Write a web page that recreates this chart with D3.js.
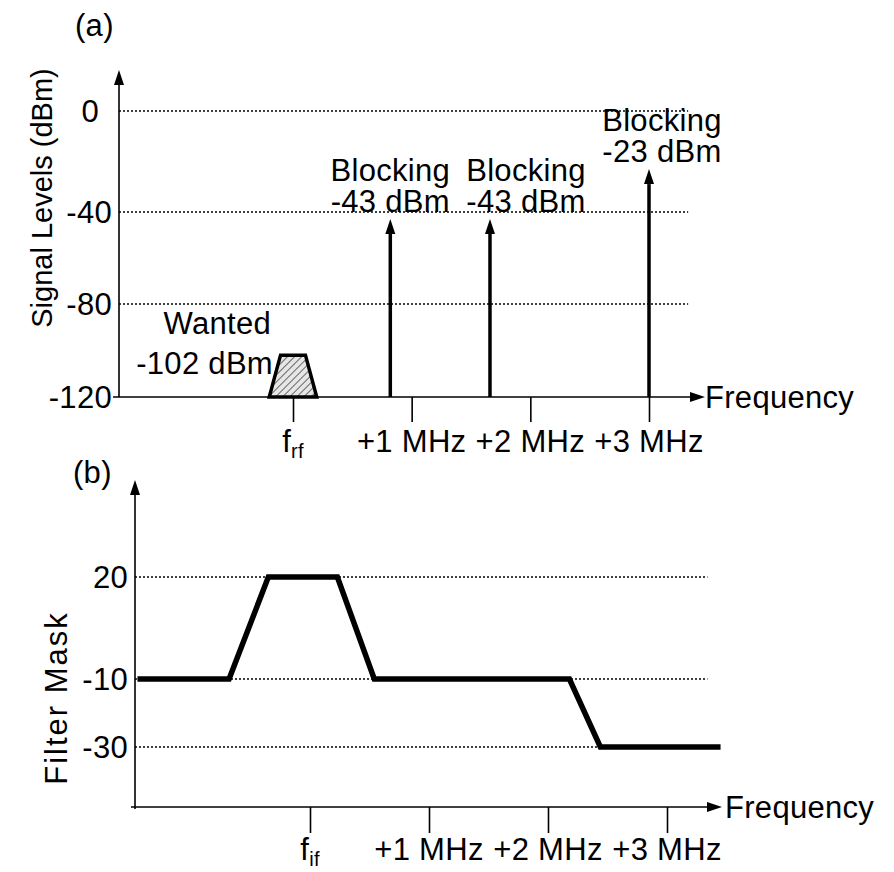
<!DOCTYPE html>
<html>
<head>
<meta charset="utf-8">
<script src="https://cdn.jsdelivr.net/npm/d3@7"></script>
<style>
  body { margin: 0; background: #fff; }
  text { font-family: "Liberation Sans", Arial, sans-serif; font-size: 31px; fill: #000; letter-spacing: 0.3px; }
</style>
</head>
<body>
<script>
// (a) signal levels at the receiver input
let levelTicksA = [0, -40, -80, -120];
let freqTicks = [0, 1, 2, 3];
let freqLabelsA = ['f|rf', '+1 MHz', '+2 MHz', '+3 MHz'];
let blockFreqs = [0.82, 1.66, 3.0];
let blockLevels = [-43, -43, -23];
let blockNames = ['Blocking', 'Blocking', 'Blocking'];
let wantedFreq = 0;
let wantedLevel = -102;
let wantedBottomWidth = 0.40; // MHz
let wantedTopWidth = 0.21;

// (b) filter mask
let maskTicksB = [20, -10, -30];
let freqLabelsB = ['f|if', '+1 MHz', '+2 MHz', '+3 MHz'];
let maskFreqs = [-1.45, -0.68, -0.35, 0.23, 0.54, 2.18, 2.44, 3.45];
let maskLevels = [-10, -10, 20, 20, -10, -10, -30, -30];

let width = 894, height = 872;
let svg = d3.select('body').append('svg').attr('width', width).attr('height', height);

// hatch for the wanted signal
let defs = svg.append('defs');
let pat = defs.append('pattern').attr('id', 'hatch').attr('patternUnits', 'userSpaceOnUse')
  .attr('width', 5).attr('height', 5).attr('patternTransform', 'rotate(45)');
pat.append('rect').attr('width', 5).attr('height', 5).attr('fill', '#e6e6e6');
pat.append('line').attr('x1', 0).attr('y1', 0).attr('x2', 0).attr('y2', 5)
  .attr('stroke', '#666').attr('stroke-width', 2);

function arrow(g, x1, y1, x2, y2, w) {
  let ang = Math.atan2(y2 - y1, x2 - x1);
  let L = 15, H = 5;
  let bx = x2 - L * Math.cos(ang), by = y2 - L * Math.sin(ang);
  g.append('line').attr('x1', x1).attr('y1', y1).attr('x2', bx).attr('y2', by)
    .attr('stroke', '#000').attr('stroke-width', w);
  g.append('path')
    .attr('d', `M${x2},${y2}L${bx + H * Math.sin(ang)},${by - H * Math.cos(ang)}L${bx - H * Math.sin(ang)},${by + H * Math.cos(ang)}Z`)
    .attr('fill', '#000');
}

function freqLabel(sel, label) {
  let parts = label.split('|');
  sel.append('tspan').text(parts[0]);
  if (parts[1]) {
    sel.append('tspan').attr('font-size', 20).attr('dy', 6).text(parts[1]);
  }
}

// ---------- panel (a) ----------
let xA = d3.scaleLinear().domain([0, 3]).range([293, 649]);
let yA = d3.scaleLinear().domain([-120, -80, -40, 0]).range([397, 304, 212, 111]);
let gA = svg.append('g');
let axA = { left: 119, top: 70, right: 705 };

gA.append('text').attr('x', 75).attr('y', 36).text('(a)');

// grid
gA.selectAll('line.grid').data(levelTicksA.filter(d => d > -120)).join('line')
  .attr('class', 'grid')
  .attr('x1', axA.left).attr('x2', xA(3.33))
  .attr('y1', d => yA(d)).attr('y2', d => yA(d))
  .attr('stroke', '#000').attr('stroke-width', 1.3).attr('stroke-dasharray', '2,2');

// ticks under the frequency axis
gA.append('g').attr('transform', `translate(0,${yA(-120)})`)
  .call(d3.axisBottom(xA).tickValues(freqTicks).tickSize(25).tickFormat(''))
  .call(g => g.select('.domain').remove())
  .call(g => g.selectAll('.tick line').attr('stroke-width', 1.6));

arrow(gA, axA.left, yA(-120), axA.left, axA.top, 1.6);
arrow(gA, 113, yA(-120), axA.right, yA(-120), 1.6);

gA.selectAll('text.ylab').data(levelTicksA).join('text')
  .attr('class', 'ylab')
  .attr('x', d => d === 0 ? 99 : 112).attr('y', d => yA(d)).attr('dy', '0.36em')
  .attr('text-anchor', 'end').text(d => d);

gA.selectAll('text.xlab').data(freqTicks).join('text')
  .attr('class', 'xlab')
  .attr('x', d => xA(d)).attr('y', 452).attr('text-anchor', 'middle')
  .each(function(d, i) { freqLabel(d3.select(this), freqLabelsA[i]); });

gA.append('text').attr('x', axA.right).attr('y', yA(-120)).attr('dy', '0.36em').text('Frequency');

gA.append('text').attr('transform', 'translate(52,198) rotate(-90)')
  .attr('text-anchor', 'middle').style('font-size', '29px').style('letter-spacing', '0px')
  .text('Signal Levels (dBm)');

// wanted signal
let wb = yA(-120), wt = yA(wantedLevel);
gA.append('path')
  .attr('d', `M${xA(wantedFreq - wantedBottomWidth / 2)},${wb}L${xA(wantedFreq - wantedTopWidth / 2)},${wt}` +
             `L${xA(wantedFreq + wantedTopWidth / 2)},${wt}L${xA(wantedFreq + wantedBottomWidth / 2)},${wb}Z`)
  .attr('fill', 'url(#hatch)').attr('stroke', '#000').attr('stroke-width', 3.5).attr('stroke-linejoin', 'miter');
gA.append('text').attr('x', xA(wantedFreq) - 22).attr('y', wt - 21).attr('text-anchor', 'end').text('Wanted');
gA.append('text').attr('x', xA(wantedFreq) - 20).attr('y', wt + 19).attr('text-anchor', 'end')
  .text(wantedLevel + ' dBm');

// blockers
let labelShift = [0, 36, 13];
blockFreqs.forEach((f, i) => {
  arrow(gA, xA(f), yA(-120), xA(f), yA(blockLevels[i]), 3.5);
  gA.append('text').attr('x', xA(f) + labelShift[i]).attr('y', yA(blockLevels[i]) - 38)
    .attr('text-anchor', 'middle').text(blockNames[i]);
  gA.append('text').attr('x', xA(f) + labelShift[i]).attr('y', yA(blockLevels[i]) - 7)
    .attr('text-anchor', 'middle').text(blockLevels[i] + ' dBm');
});

// ---------- panel (b) ----------
let xB = d3.scaleLinear().domain([0, 3]).range([310, 667]);
let yB = d3.scaleLinear().domain([-30, 20]).range([747, 577]);
let gB = svg.append('g');
let axB = { left: 135, bottom: 807, top: 480, right: 722 };

gB.append('text').attr('x', 73).attr('y', 483).text('(b)');

gB.selectAll('line.grid').data(maskTicksB).join('line')
  .attr('class', 'grid')
  .attr('x1', axB.left).attr('x2', xB(3.34))
  .attr('y1', d => yB(d)).attr('y2', d => yB(d))
  .attr('stroke', '#000').attr('stroke-width', 1.3).attr('stroke-dasharray', '2,2');

gB.append('g').attr('transform', `translate(0,${axB.bottom})`)
  .call(d3.axisBottom(xB).tickValues(freqTicks).tickSize(26).tickFormat(''))
  .call(g => g.select('.domain').remove())
  .call(g => g.selectAll('.tick line').attr('stroke-width', 1.6));

arrow(gB, axB.left, axB.bottom + 2, axB.left, axB.top, 1.6);
arrow(gB, 131, axB.bottom, axB.right, axB.bottom, 1.6);

gB.selectAll('text.ylab').data(maskTicksB).join('text')
  .attr('class', 'ylab')
  .attr('x', 128).attr('y', d => yB(d)).attr('dy', '0.36em')
  .attr('text-anchor', 'end').text(d => d);

gB.selectAll('text.xlab').data(freqTicks).join('text')
  .attr('class', 'xlab')
  .attr('x', d => xB(d)).attr('y', 860).attr('text-anchor', 'middle')
  .each(function(d, i) { freqLabel(d3.select(this), freqLabelsB[i]); });

gB.append('text').attr('x', axB.right + 3).attr('y', axB.bottom).attr('dy', '0.36em').text('Frequency');

gB.append('text').attr('transform', 'translate(67,698) rotate(-90)')
  .attr('text-anchor', 'middle').style('letter-spacing', '2px').text('Filter Mask');

let maskLine = d3.line().x(d => xB(d[0])).y(d => yB(d[1]));
gB.append('path')
  .attr('d', maskLine(d3.zip(maskFreqs, maskLevels)))
  .attr('fill', 'none').attr('stroke', '#000').attr('stroke-width', 5.5).attr('stroke-linejoin', 'miter');
</script>
</body>
</html>
